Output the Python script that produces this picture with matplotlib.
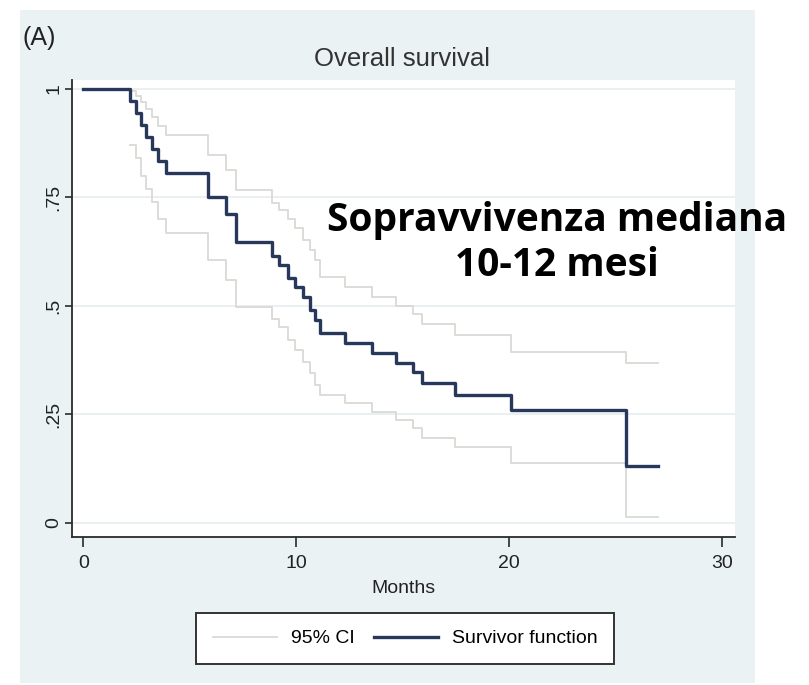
import matplotlib
matplotlib.use("Agg")
import matplotlib.pyplot as plt
from matplotlib.patches import Rectangle

# Kaplan-Meier estimate (months, survival) and its 95% confidence band
km_months = [0, 2.2, 2.45, 2.7, 2.95, 3.2, 3.5, 3.9, 5.85, 6.7, 7.15, 8.85, 9.2,
             9.6, 9.95, 10.3, 10.65, 10.9, 11.1, 12.3, 13.55, 14.7, 15.5, 15.9,
             17.45, 20.1, 25.5, 27.0]
km_surv = [1.0, 0.972, 0.944, 0.917, 0.889, 0.861, 0.833, 0.806, 0.751, 0.712,
           0.647, 0.615, 0.594, 0.564, 0.543, 0.52, 0.49, 0.467, 0.437, 0.414,
           0.391, 0.368, 0.347, 0.322, 0.294, 0.26, 0.13, 0.13]

ci_months = km_months[1:]
ci_upper = [0.996, 0.985, 0.97, 0.953, 0.935, 0.914, 0.894, 0.848, 0.813, 0.767,
            0.737, 0.72, 0.70, 0.68, 0.652, 0.629, 0.605, 0.566, 0.543, 0.52,
            0.50, 0.48, 0.458, 0.433, 0.394, 0.368, 0.368]
ci_lower = [0.87, 0.84, 0.80, 0.77, 0.74, 0.70, 0.668, 0.606, 0.56, 0.498, 0.47,
            0.451, 0.421, 0.398, 0.37, 0.345, 0.318, 0.294, 0.275, 0.256, 0.236,
            0.217, 0.195, 0.175, 0.137, 0.013, 0.013]

x_ticks = [0, 10, 20, 30]
y_ticks = [0, 0.25, 0.5, 0.75, 1]
y_tick_labels = ["0", ".25", ".5", ".75", "1"]

W, H = 809, 685
fig = plt.figure(figsize=(W / 100, H / 100), dpi=100)
fig.patch.set_facecolor("white")

# Graph region background
fig.patches.append(Rectangle((20 / W, 1 - 683 / H), (755 - 20) / W, (683 - 10) / H,
                             transform=fig.transFigure, facecolor="#eaf2f3",
                             edgecolor="none", zorder=-5))

ax = fig.add_axes([72 / W, 1 - 537 / H, (735 - 72) / W, (537 - 80) / H])
ax.set_facecolor("white")

navy = "#27385a"
ci_col = "#d9d9d6"

ax.step(ci_months, ci_upper, where="post", color=ci_col, lw=1.3, zorder=2,
        label="95% CI")
ax.step(ci_months, ci_lower, where="post", color=ci_col, lw=1.3, zorder=2)
ax.step(km_months, km_surv, where="post", color=navy, lw=2.4, zorder=3,
        label="Survivor function")

ax.set_xlim(-0.54, 30.62)
ax.set_ylim(-0.0334, 1.0208)

ax.set_xticks(x_ticks)
ax.set_yticks(y_ticks)
ax.set_yticklabels(y_tick_labels)
ax.yaxis.grid(True, color="#e6eef0", lw=1.2, zorder=0)
ax.set_axisbelow(True)

for side in ("top", "right"):
    ax.spines[side].set_visible(False)
for side in ("left", "bottom"):
    ax.spines[side].set_color("#2a2a2a")
    ax.spines[side].set_linewidth(1.3)

font = "Liberation Sans"
ax.tick_params(axis="both", direction="out", width=1.2,
               color="#2a2a2a", labelcolor="#222222", labelsize=14)
ax.tick_params(axis="x", length=7, pad=6)
ax.tick_params(axis="y", length=5, pad=2)
for lab in ax.get_xticklabels() + ax.get_yticklabels():
    lab.set_fontfamily(font)
for lab in ax.get_yticklabels():
    lab.set_rotation(90)
    lab.set_verticalalignment("center")

ax.set_xlabel("Months", fontsize=14, family=font, color="#222222", labelpad=6)

fig.text(402 / W, 1 - 59 / H, "Overall survival", ha="center", va="center",
         fontsize=18.5, family=font, color="#333333")
fig.text(22 / W, 1 - 38 / H, "(A)", ha="left", va="center",
         fontsize=18, family=font, color="#222222")

leg = fig.legend(loc="center", bbox_to_anchor=(405 / W, 1 - 638.5 / H),
                 ncol=2, frameon=True, fancybox=False, framealpha=1,
                 prop={"family": font, "size": 14}, handlelength=3.3,
                 columnspacing=1.0, handletextpad=0.7, borderpad=0.85)
leg.get_frame().set_edgecolor("#333333")
leg.get_frame().set_linewidth(1.4)
leg.get_frame().set_facecolor("white")

# Bold callout, sized so the first line spans the wanted width
call_font = "Open Sans"
line1 = fig.text(557 / W, 1 - 221 / H, "Sopravvivenza mediana", ha="center",
                 va="center", fontsize=24, family=call_font, weight="bold",
                 color="black")
line2 = fig.text(557 / W, 1 - 266 / H, "10-12 mesi", ha="center", va="center",
                 fontsize=24, family=call_font, weight="bold", color="black")
renderer = fig.canvas.get_renderer()
w = line1.get_window_extent(renderer).width
size = 24 * 462 / w
line1.set_fontsize(size)
line2.set_fontsize(size)

fig.savefig("out.png", dpi=100)
